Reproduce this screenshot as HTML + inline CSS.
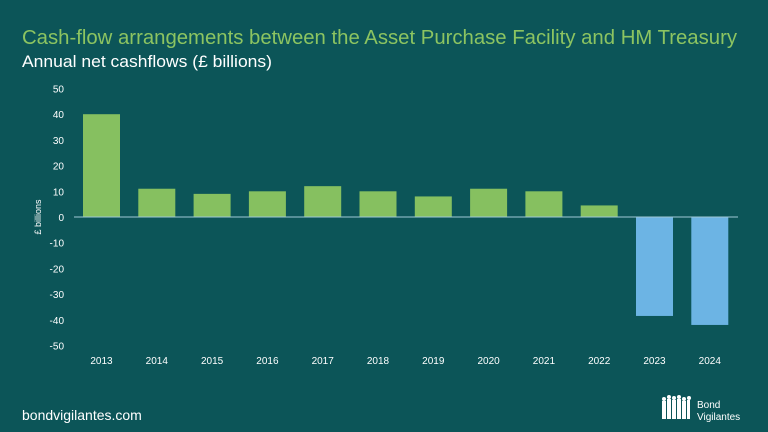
<!DOCTYPE html>
<html><head><meta charset="utf-8"><style>
body{margin:0;width:768px;height:432px;background:#0c5558;overflow:hidden;font-family:"Liberation Sans",sans-serif;}
svg{position:absolute;left:0;top:0}
</style></head><body>
<svg width="768" height="432">
<text x="22" y="44" font-size="20" textLength="715" lengthAdjust="spacingAndGlyphs" fill="#8cc461">Cash-flow arrangements between the Asset Purchase Facility and HM Treasury</text>
<text x="22" y="67" font-size="17" textLength="250" lengthAdjust="spacingAndGlyphs" fill="#ffffff">Annual net cashflows (£ billions)</text>
<text transform="translate(41,217) rotate(-90)" text-anchor="middle" font-size="9" fill="#ffffff">£ billions</text>
<g id="ticks"></g><g id="bars"></g>
<line x1="74" x2="738" y1="217" y2="217" stroke="#9fc9d6" stroke-width="1"/>
<g id="xl"></g>
<text x="22" y="420" font-size="14" fill="#ffffff">bondvigilantes.com</text>
<g>
<g fill="#ffffff"><rect x="662" y="401" width="4" height="18"/><rect x="667" y="399" width="4" height="20"/><rect x="672" y="400" width="4" height="19"/><rect x="677" y="399" width="4" height="20"/><rect x="682" y="401" width="4" height="18"/><rect x="687" y="400" width="3" height="19"/>
<circle cx="664" cy="399" r="2"/><circle cx="669" cy="397" r="2"/><circle cx="674" cy="398" r="2"/><circle cx="679" cy="397" r="2"/><circle cx="684" cy="399" r="2"/><circle cx="689" cy="398" r="2"/></g>
<text x="697" y="408" font-size="10" fill="#ffffff">Bond</text>
<text x="697" y="420" font-size="10" fill="#ffffff">Vigilantes</text>
</g>
</svg>
<script>
const years=["2013","2014","2015","2016","2017","2018","2019","2020","2021","2022","2023","2024"];
const values=[40,11,9,10,12,10,8,11,10,4.5,-38.5,-42];
const yTicks=[50,40,30,20,10,0,-10,-20,-30,-40,-50];
const NS="http://www.w3.org/2000/svg";
const y=v=>217-v*2.57;
const x=i=>101.5+i*55.3;
const tg=document.getElementById('ticks'),bg=document.getElementById('bars'),xg=document.getElementById('xl');
yTicks.forEach(t=>{const e=document.createElementNS(NS,'text');e.setAttribute('x',64);e.setAttribute('y',y(t)+4);e.setAttribute('text-anchor','end');e.setAttribute('font-size','10');e.setAttribute('fill','#ffffff');e.textContent=t;


tg.appendChild(e);});
values.forEach((v,i)=>{const r=document.createElementNS(NS,'rect');const w=37;r.setAttribute('x',x(i)-w/2);r.setAttribute('width',w);r.setAttribute('y',Math.min(y(v),y(0)));r.setAttribute('height',Math.abs(y(v)-y(0)));r.setAttribute('fill',v>=0?'#86c060':'#6cb4e4');


bg.appendChild(r);
const t=document.createElementNS(NS,'text');t.setAttribute('x',x(i));t.setAttribute('y',364);t.setAttribute('text-anchor','middle');t.setAttribute('font-size','10');t.setAttribute('fill','#ffffff');t.textContent=years[i];


xg.appendChild(t);});
</script>
</body></html>
